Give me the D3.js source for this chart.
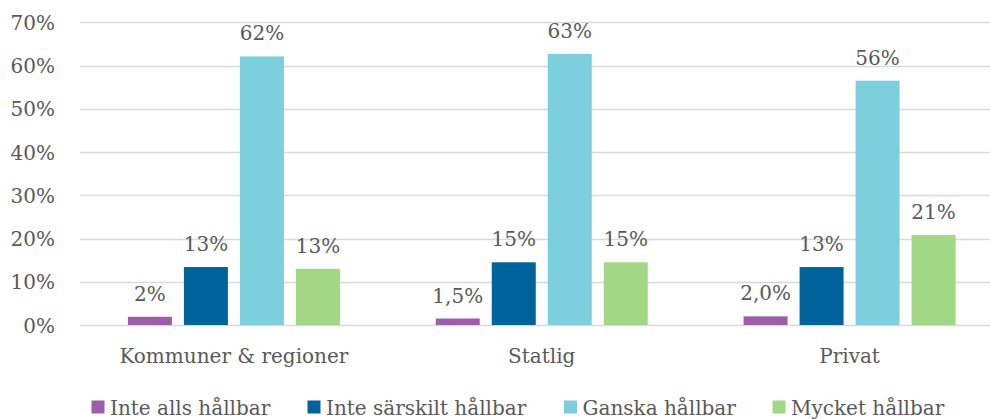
<!DOCTYPE html>
<html>
<head>
<meta charset="utf-8">
<script src="https://cdn.jsdelivr.net/npm/d3@7"></script>
<style>
  body { margin: 0; background: #fff; }
  svg { display: block; }
  svg text { font-family: "DejaVu Serif", serif; fill: #595959; }
</style>
</head>
<body>
<svg id="chart"></svg>
<script>
var categories = ["Kommuner & regioner", "Statlig", "Privat"];
var series = ["Inte alls hållbar", "Inte särskilt hållbar", "Ganska hållbar", "Mycket hållbar"];
var colors = ["#9c5ea8", "#00639c", "#7ecfdd", "#a2d786"];

// values per series, one per category
var inteAlls = [0.019, 0.015, 0.020];
var inteSarskilt = [0.134, 0.145, 0.134];
var ganska = [0.621, 0.627, 0.565];
var mycket = [0.130, 0.145, 0.208];

var labelsInteAlls = ["2%", "1,5%", "2,0%"];
var labelsInteSarskilt = ["13%", "15%", "13%"];
var labelsGanska = ["62%", "63%", "56%"];
var labelsMycket = ["13%", "15%", "21%"];

var yTicks = [0, 0.1, 0.2, 0.3, 0.4, 0.5, 0.6, 0.7];

var values = [inteAlls, inteSarskilt, ganska, mycket];
var labels = [labelsInteAlls, labelsInteSarskilt, labelsGanska, labelsMycket];

var width = 990,
	height = 419,
	fs = 20;

var svg = d3.select("#chart")
	.attr("width", width)
	.attr("height", height);

var x0 = d3.scaleBand()
	.domain(categories)
	.range([80, 1003.5]);

var groupWidth = 212;
var x1 = d3.scaleBand()
	.domain(series)
	.range([(x0.bandwidth() - groupWidth) / 2, (x0.bandwidth() + groupWidth) / 2])
	.paddingInner(0.2143)
	.paddingOuter(0);

var y = d3.scaleLinear()
	.domain([0, 0.7])
	.range([325, 22.3]);

// gridlines
svg.append("g")
	.selectAll("line")
	.data(yTicks)
	.enter()
	.append("line")
	.attr("x1", 80)
	.attr("x2", width)
	.attr("y1", function(d){ return Math.round(y(d)) + 0.5; })
	.attr("y2", function(d){ return Math.round(y(d)) + 0.5; })
	.attr("stroke", "#d9d9d9")
	.attr("stroke-width", 1.3);

// y axis labels
var yAxis = d3.axisLeft(y)
	.tickValues(yTicks)
	.tickFormat(function(d){ return Math.round(d * 100) + "%"; })
	.tickSize(0)
	.tickPadding(0);

var yg = svg.append("g")
	.attr("transform", "translate(55,0)")
	.call(yAxis)
	.attr("font-family", null)
	.attr("font-size", null);
yg.select(".domain").remove();
yg.selectAll("text")
	.attr("font-size", fs)
	.attr("fill", "#595959")
	.attr("dy", "0.36em");

// bars
var groups = svg.append("g")
	.selectAll("g")
	.data(categories)
	.enter()
	.append("g")
	.attr("transform", function(d){ return "translate(" + x0(d) + ",0)"; });

groups.each(function(cat, ci){
	var g = d3.select(this);
	var rows = series.map(function(s, si){
		return {series: s, value: values[si][ci], label: labels[si][ci], color: colors[si]};
	});
	g.selectAll("rect")
		.data(rows)
		.enter()
		.append("rect")
		.attr("x", function(d){ return x1(d.series); })
		.attr("y", function(d){ return y(d.value); })
		.attr("width", x1.bandwidth())
		.attr("height", function(d){ return y(0) - y(d.value); })
		.attr("fill", function(d){ return d.color; });
	g.selectAll("text")
		.data(rows)
		.enter()
		.append("text")
		.attr("x", function(d){ return x1(d.series) + x1.bandwidth() / 2; })
		.attr("y", function(d){ return y(d.value) - 16; })
		.attr("text-anchor", "middle")
		.attr("font-size", fs)
		.text(function(d){ return d.label; });
});

// category labels
svg.append("g")
	.selectAll("text")
	.data(categories)
	.enter()
	.append("text")
	.attr("x", function(d){ return x0(d) + x0.bandwidth() / 2; })
	.attr("y", 363)
	.attr("text-anchor", "middle")
	.attr("font-size", fs)
	.text(function(d){ return d; });

// legend
var legendX = [91.5, 307.5, 564, 772.5];
var legend = svg.append("g")
	.selectAll("g")
	.data(series)
	.enter()
	.append("g")
	.attr("transform", function(d, i){ return "translate(" + legendX[i] + ",400.5)"; });

legend.append("rect")
	.attr("width", 13)
	.attr("height", 13)
	.attr("fill", function(d, i){ return colors[i]; });

legend.append("text")
	.attr("x", 18.5)
	.attr("y", 14.5)
	.attr("font-size", fs)
	.text(function(d){ return d; });
</script>
</body>
</html>
